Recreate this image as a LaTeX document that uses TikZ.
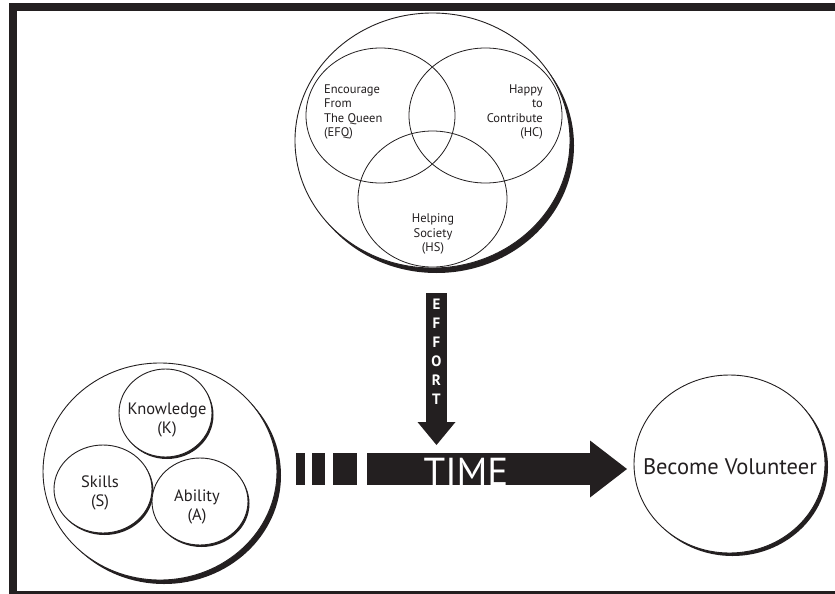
\documentclass[tikz,border=0pt]{standalone}
\usepackage{fontspec}
\setmainfont{PT Sans}
\usetikzlibrary{arrows.meta,shapes.geometric,shadows}
\definecolor{ink}{RGB}{35,31,32}
\tikzset{
    ring/.style={ellipse,draw=ink,line width=0.9pt,fill=white,inner sep=0pt},
    venn/.style={ellipse,draw=ink,line width=0.8pt,inner sep=0pt},
    txt/.style={inner sep=0pt,text=ink},
    band/.style={ink,line width=#1}
}
\newcommand{\ty}{469}
\newcommand{\ex}{436.5}

\begin{document}
\begin{tikzpicture}[x=1pt,y=-1pt]
\clip (0,0) rectangle (835,594);
\draw[ink,line width=8pt] (13,7) rectangle (850,595);

\node[ring,minimum width=275,minimum height=255,drop shadow={fill=ink,opacity=1,shadow xshift=4pt,shadow yshift=-5pt}] (venn) at (432.5,140.5) {};
\node[venn,minimum width=149,minimum height=135] (efq) at (380.5,115.5) {};
\node[venn,minimum width=153,minimum height=135] (hc) at (485.5,115.5) {};
\node[venn,minimum width=149,minimum height=136] (hs) at (432.5,199) {};
\node[txt,anchor=west,align=left,font=\fontsize{12.5}{14.3}\selectfont] (efqtext) at (324,112) {Encourage\\From\\The Queen\\(EFQ)};
\node[txt,anchor=east,align=right,font=\fontsize{12.5}{14.3}\selectfont] (hctext) at (543,112) {Happy\\to\\Contribute\\(HC)};
\node[txt,align=center,font=\fontsize{12.5}{14.3}\selectfont] (hstext) at (433,234) {Helping\\Society\\(HS)};

\node[ring,minimum width=234,minimum height=217,drop shadow={fill=ink,opacity=1,shadow xshift=4pt,shadow yshift=-4pt}] (ksa) at (160,471.5) {};
\node[ring,minimum width=93,minimum height=88,drop shadow={fill=ink,opacity=1,shadow xshift=1.5pt,shadow yshift=-2pt}] (know) at (165.5,413) {};
\node[ring,minimum width=98,minimum height=88,drop shadow={fill=ink,opacity=1,shadow xshift=1.5pt,shadow yshift=-2pt}] (skills) at (103,489) {};
\node[ring,minimum width=96,minimum height=87,drop shadow={fill=ink,opacity=1,shadow xshift=1.5pt,shadow yshift=-2pt}] (ability) at (200,501.5) {};
\node[txt,align=center,font=\fontsize{16.5}{19.3}\selectfont] (knowtext) at (167,420) {Knowledge\\(K)};
\node[txt,align=center,font=\fontsize{16.5}{19.3}\selectfont] (skillstext) at (100,493) {Skills\\(S)};
\node[txt,align=center,font=\fontsize{16.5}{19.3}\selectfont] (abilitytext) at (197,507) {Ability\\(A)};

\node[ring,minimum width=191,minimum height=178,drop shadow={fill=ink,opacity=1,shadow xshift=3pt,shadow yshift=-3pt}] (vol) at (729.5,464) {};
\node[txt,font=\fontsize{22.5}{26}\selectfont] (voltext) at (730,467) {Become Volunteer};

\coordinate (e1) at (\ex,293);
\coordinate (e2) at (\ex,445);
\draw[band=21pt,-{Triangle[width=38pt,length=23pt,line width=0pt]}] (e1) -- (e2);
\node[txt,text=white,align=center,font=\bfseries\fontsize{15}{19}\selectfont] (effort) at (\ex,352) {E\\F\\F\\O\\R\\T};

\coordinate (t0) at (296,\ty);
\coordinate (t1) at (627,\ty);
\draw[band=32pt,dash pattern=on 9pt off 7pt on 13pt off 8pt on 24pt off 10pt on 400pt,-{Triangle[width=57pt,length=37pt,line width=0pt]}] (t0) -- (t1);
\node[txt,text=white,font=\fontsize{39}{39}\selectfont] (time) at (466,472) {TIME};

\end{tikzpicture}
\end{document}
